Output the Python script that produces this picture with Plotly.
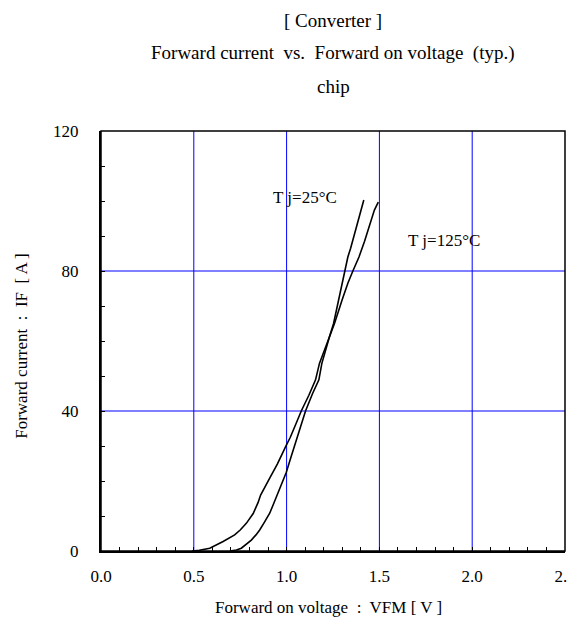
import plotly.graph_objects as go

# Tj = 125°C curve (forward voltage [V], forward current [A])
v_125 = [0.49, 0.53, 0.586, 0.62, 0.658, 0.72, 0.75, 0.783, 0.82, 0.846, 0.86, 0.909,
         0.95, 0.998, 1.02, 1.05, 1.079, 1.12, 1.156, 1.177, 1.205, 1.231, 1.258, 1.299,
         1.33, 1.357, 1.39, 1.42, 1.445, 1.473, 1.494]
i_125 = [0, 0.2, 0.8, 1.7, 2.7, 4.6, 6.0, 7.9, 10.7, 13.8, 16.0, 20.8,
         24.8, 30.2, 32.5, 36.3, 40, 44.5, 48.9, 53.6, 57.5, 61.2, 65, 71.7,
         76.5, 80, 84, 88.5, 93, 97.4, 99.7]

# Tj = 25°C curve
v_25 = [0.694, 0.73, 0.756, 0.78, 0.81, 0.835, 0.855, 0.88, 0.909, 0.93, 0.953, 0.975,
        0.998, 1.02, 1.045, 1.07, 1.102, 1.14, 1.174, 1.19, 1.215, 1.231, 1.253, 1.281,
        1.3, 1.317, 1.33, 1.345, 1.357, 1.372, 1.383, 1.401, 1.416]
i_25 = [0, 0.3, 0.8, 1.8, 3.1, 4.6, 6.0, 8.2, 10.8, 13.5, 16.5, 19.3,
        22.4, 26.2, 30.5, 35, 40, 45, 48.9, 53.6, 58.5, 61.2, 65, 71.7,
        76, 80, 84, 86.5, 88.9, 91.5, 93.6, 97.4, 100.3]

x_tickvals = [0.0, 0.5, 1.0, 1.5, 2.0, 2.5]
x_ticktext = ["0.0", "0.5", "1.0", "1.5", "2.0", "2.5"]
y_tickvals = [0, 40, 80, 120]
y_ticktext = ["0", "40", "80", "120"]

title_lines = ["[ Converter ]",
               "Forward current  vs.  Forward on voltage  (typ.)",
               "chip"]
x_title = "Forward on voltage  :  VFM [ V ]"
y_title = "Forward current  :  IF  [ A ]"
curve_labels = [("T j=25°C", 0.914, 101.1), ("T j=125°C", 1.645, 88.6)]

FONT = "Liberation Serif, Times New Roman, serif"
GRID = "#0000FF"

fig = go.Figure()
fig.add_trace(go.Scatter(x=v_125, y=i_125, mode="lines", name="Tj=125°C",
                         line=dict(color="black", width=1.6), showlegend=False))
fig.add_trace(go.Scatter(x=v_25, y=i_25, mode="lines", name="Tj=25°C",
                         line=dict(color="black", width=1.6), showlegend=False))

annotations = []
for txt, yp in zip(title_lines, [1.264, 1.1857, 1.1048]):
    annotations.append(dict(text=txt, x=0.5, y=yp, xref="paper", yref="paper",
                            xanchor="center", yanchor="middle", showarrow=False,
                            font=dict(family=FONT, size=19, color="black")))
annotations.append(dict(text=x_title, x=0.49, y=-0.1357, xref="paper", yref="paper",
                        xanchor="center", yanchor="middle", showarrow=False,
                        font=dict(family=FONT, size=17, color="black")))
annotations.append(dict(text=y_title, x=-0.173, y=0.488, xref="paper", yref="paper",
                        xanchor="center", yanchor="middle", showarrow=False, textangle=-90,
                        font=dict(family=FONT, size=17, color="black")))
for txt, xv, yv in curve_labels:
    annotations.append(dict(text=txt, x=xv, y=yv, xref="x", yref="y",
                            xanchor="left", yanchor="middle", showarrow=False,
                            font=dict(family=FONT, size=17, color="black")))

shapes = []
for xv in x_tickvals[1:-1]:
    shapes.append(dict(type="line", xref="x", yref="paper", x0=xv, x1=xv, y0=0, y1=1,
                       line=dict(color=GRID, width=1), layer="below"))
for yv in y_tickvals[1:-1]:
    shapes.append(dict(type="line", xref="paper", yref="y", x0=0, x1=1, y0=yv, y1=yv,
                       line=dict(color=GRID, width=1), layer="below"))
shapes.append(dict(type="rect", xref="paper", yref="paper", x0=0, y0=0, x1=1, y1=1,
                   line=dict(color="black", width=1.5), layer="above"))

fig.update_layout(
    width=567, height=612,
    margin=dict(l=93, r=10, t=123, b=69, autoexpand=False),
    paper_bgcolor="white", plot_bgcolor="white",
    font=dict(family=FONT, size=17, color="black"),
    annotations=annotations,
    shapes=shapes,
)
fig.update_xaxes(range=[0, 2.5], tickvals=x_tickvals, ticktext=x_ticktext,
                 showgrid=False, automargin=False,
                 showline=True, linecolor="black", linewidth=2,
                 ticks="inside", ticklen=4, tickcolor="black",
                 minor=dict(dtick=0.1, tick0=0, ticks="inside", ticklen=4, tickcolor="black", showgrid=False),
                 ticklabelstandoff=9, ticklabeloverflow="allow", zeroline=False, fixedrange=True,
                 tickfont=dict(family=FONT, size=17))
fig.update_yaxes(range=[0, 120], tickvals=y_tickvals, ticktext=y_ticktext,
                 showgrid=False, automargin=False,
                 showline=True, linecolor="black", linewidth=2,
                 ticks="inside", ticklen=4, tickcolor="black",
                 minor=dict(dtick=10, tick0=0, ticks="inside", ticklen=4, tickcolor="black", showgrid=False),
                 ticklabelstandoff=17, ticklabeloverflow="allow", zeroline=False, fixedrange=True,
                 tickfont=dict(family=FONT, size=17))

fig.write_html("out.html")
